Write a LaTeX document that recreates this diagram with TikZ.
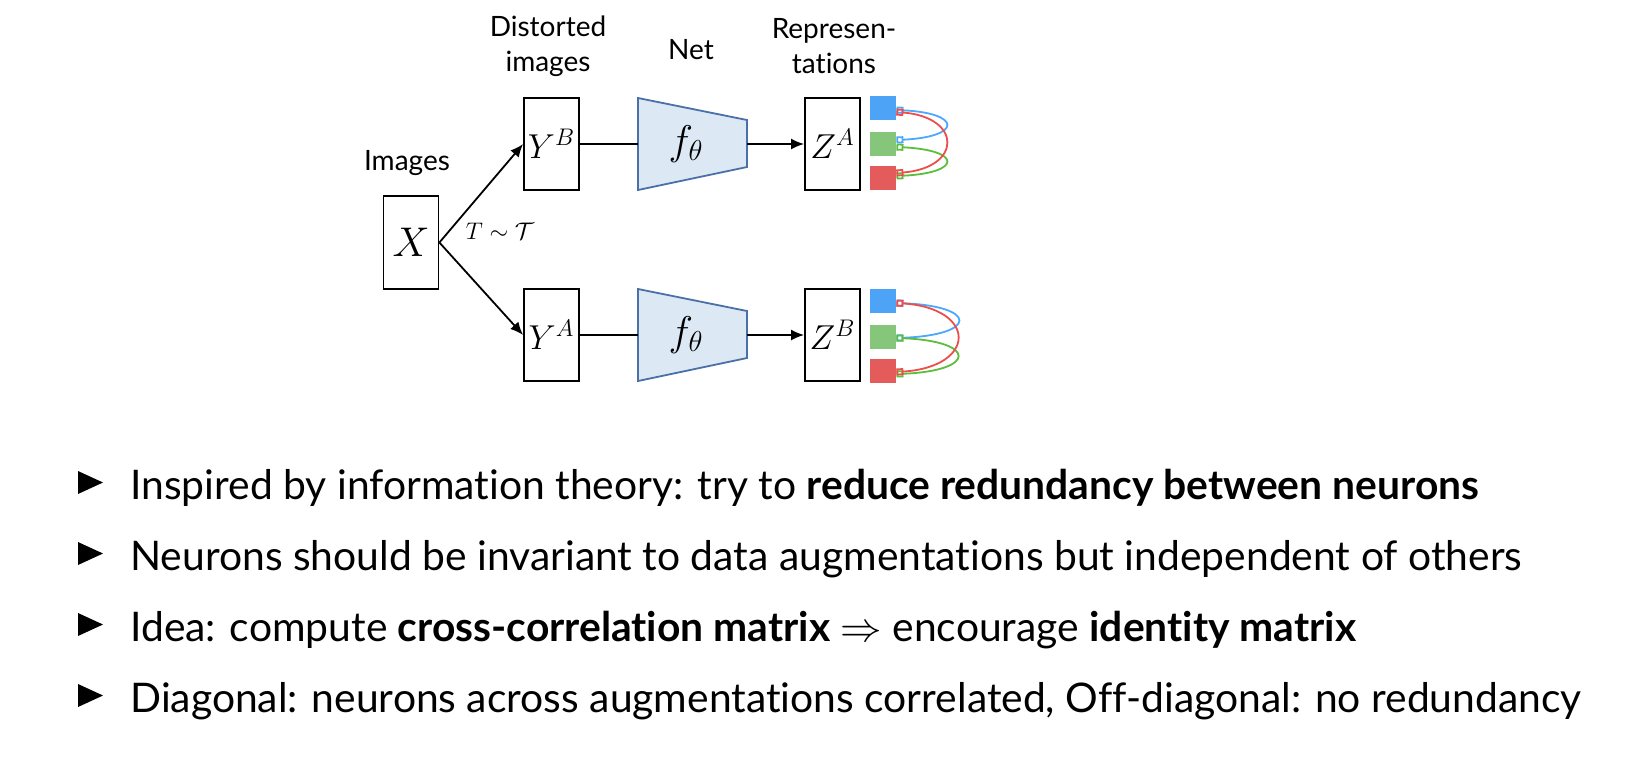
\documentclass[tikz,border=0pt]{standalone}
\usepackage{fontspec}
\setmainfont{Lato}[Ligatures=NoCommon]
\usetikzlibrary{arrows.meta}

\definecolor{netfill}{HTML}{DDE8F5}
\definecolor{netline}{HTML}{4A70A8}
\definecolor{neurblue}{HTML}{4DA3F5}
\definecolor{neurgreen}{HTML}{86C67A}
\definecolor{neurred}{HTML}{E35B5B}
\definecolor{linkblue}{HTML}{4AA8FF}
\definecolor{linkgreen}{HTML}{5BBE3C}
\definecolor{linkred}{HTML}{EC4F4B}

\begin{document}
\begin{tikzpicture}[x=0.5pt, y=-0.5pt, >={Latex[length=6.5pt,width=5.5pt]},
  imgbox/.style={draw, line width=0.9pt, minimum width=27.5pt, minimum height=46pt, inner sep=0pt, font=\fontsize{17}{20}\selectfont},
  caption/.style={font=\fontsize{14}{17.5}\selectfont, align=center},
  neuron/.style={fill=#1, minimum width=13pt, minimum height=12pt, inner sep=0pt},
  link/.style={draw=#1, line width=0.9pt, {Square[open,length=3.5pt,width=3.5pt]}-{Square[open,length=3.5pt,width=3.5pt]}},
  net/.style={draw=netline, fill=netfill, line width=0.9pt},
  bullettext/.style={font=\fontsize{20.4}{24}\selectfont, inner sep=0pt, anchor=base west}]
  \useasboundingbox (0,0) rectangle (1630,757);

  % captions
  \node[caption] (lblimg) at (407,163) {Images};
  \node[caption] (lbldist) at (548,46) {Distorted\\images};
  \node[caption] (lblnet) at (691,50) {Net};
  \node[caption] (lblrep) at (834,46) {Represen-\\tations};

  % input image
  \node[imgbox, minimum height=46.5pt, font=\fontsize{20}{24}\selectfont] (x) at (411,242.5) {$X$};
  \node[font=\fontsize{12.5}{15}\selectfont] (aug) at (500,231) {$T\sim\mathcal{T}$};

  % upper branch
  \node[imgbox] (yb) at (551.5,144) {$Y^B$};
  \draw[net] (638,98) -- (747,120) -- (747,167) -- (638,190) -- cycle;
  \node[font=\fontsize{20}{24}\selectfont] (fa) at (686,144) {$f_\theta$};
  \coordinate (fain) at (638,144);
  \coordinate (faout) at (747,144);
  \node[imgbox] (za) at (832.5,144) {$Z^A$};
  \draw[->, line width=0.9pt] (x.east) -- (yb.west);
  \draw[line width=0.9pt] (yb.east) -- (fain);
  \draw[->, line width=0.9pt] (faout) -- (za.west);

  % lower branch
  \node[imgbox] (ya) at (551.5,335) {$Y^A$};
  \draw[net] (638,289) -- (747,311) -- (747,358) -- (638,381) -- cycle;
  \node[font=\fontsize{20}{24}\selectfont] (fb) at (686,335) {$f_\theta$};
  \coordinate (fbin) at (638,335);
  \coordinate (fbout) at (747,335);
  \node[imgbox] (zb) at (832.5,335) {$Z^B$};
  \draw[->, line width=0.9pt] (x.east) -- (ya.west);
  \draw[line width=0.9pt] (ya.east) -- (fbin);
  \draw[->, line width=0.9pt] (fbout) -- (zb.west);

  % neurons, upper
  \node[neuron=neurblue] (na1) at (883,108) {};
  \node[neuron=neurgreen] (na2) at (883,144) {};
  \node[neuron=neurred] (na3) at (883,178) {};
  \draw[link=linkblue] ([yshift=-1pt]na1.east) .. controls +(66,3) and +(66,-3) .. ([yshift=2pt]na2.east);
  \draw[link=linkgreen] ([yshift=-1.5pt]na2.east) .. controls +(66,3) and +(66,-3) .. ([yshift=1pt]na3.east);
  \draw[link=linkred] ([yshift=2.5pt]na3.east) .. controls +(66,-5) and +(66,5) .. ([yshift=-2pt]na1.east);

  % neurons, lower
  \node[neuron=neurblue] (nb1) at (883,301) {};
  \node[neuron=neurgreen] (nb2) at (883,337) {};
  \node[neuron=neurred] (nb3) at (883,371) {};
  \draw[link=linkblue] ([yshift=-1pt]nb1.east) .. controls +(82,3) and +(82,-3) .. ([yshift=-0.5pt]nb2.east);
  \draw[link=linkgreen] ([yshift=-0.5pt]nb2.east) .. controls +(81,3) and +(81,-3) .. ([yshift=-1.5pt]nb3.east);
  \draw[link=linkred] ([yshift=-0.5pt]nb3.east) .. controls +(81,-5) and +(81,5) .. ([yshift=-1pt]nb1.east);

  % bullet points
  \foreach \by in {499,570,641,712}
    \fill (78,{\by-28}) -- (103,{\by-16.5}) -- (78,{\by-5}) -- cycle;
  \node[bullettext] (b1) at (130,499) {Inspired by information theory: try to \textbf{reduce redundancy between neurons}};
  \node[bullettext] (b2) at (130,570) {Neurons should be invariant to data augmentations but independent of others};
  \node[bullettext] (b3) at (130,641) {Idea: compute \textbf{cross-correlation matrix} $\Rightarrow$ encourage \textbf{identity matrix}};
  \node[bullettext] (b4) at (130,712) {Diagonal: neurons across augmentations correlated, Off-diagonal: no redundancy};
\end{tikzpicture}
\end{document}
